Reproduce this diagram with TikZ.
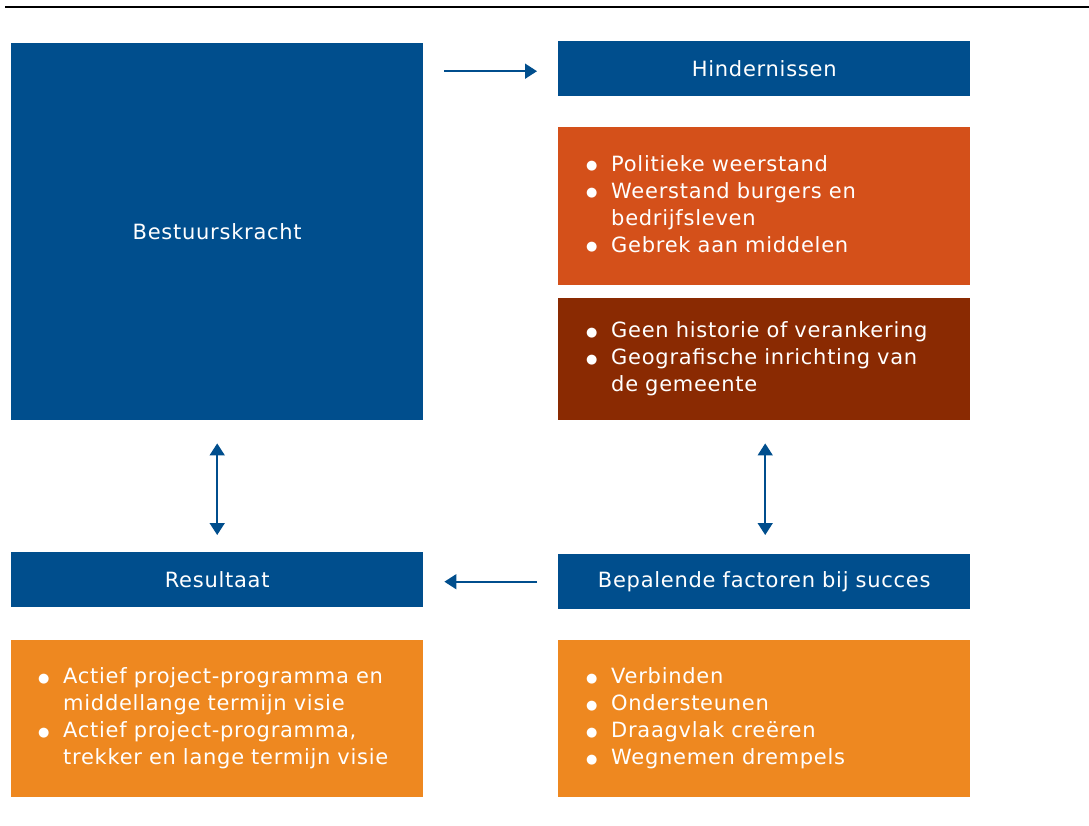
\documentclass[tikz,border=0pt]{standalone}
\usepackage{fontspec}
\setmainfont{DejaVu Sans}[LetterSpace=3.5]
\newfontfamily\dotfont{DejaVu Sans}
\usetikzlibrary{arrows.meta}
\definecolor{navy}{HTML}{004E8D}
\definecolor{rust}{HTML}{D4501A}
\definecolor{brick}{HTML}{8A2A02}
\definecolor{amber}{HTML}{EE8820}
% round white list marker
\newcommand{\bl}{\makebox[25pt][l]{\raisebox{1.5pt}{\dotfont\fontsize{13pt}{13pt}\selectfont ●}}}
\newenvironment{blist}{\begin{tabular}{@{}l@{}l@{}}}{\end{tabular}}
\begin{document}
\begin{tikzpicture}[x=1pt,y=-1pt,
  font=\fontsize{21pt}{27pt}\selectfont,
  panel/.style={anchor=north west, draw=none, text=white, inner ysep=0pt,
    minimum width=412pt, text width=356pt, inner xsep=28pt},
  headbox/.style={panel, fill=navy, align=center, minimum height=55pt},
  listbox/.style={panel, align=left},
  link/.style={draw=navy, line width=1.6pt, -{Triangle[width=15pt,length=12pt]}},
  dlink/.style={link, {Triangle[width=15pt,length=12pt]}-{Triangle[width=15pt,length=12pt]}}
]
\useasboundingbox (0,0) rectangle (1089,825);
% rule across the top
\coordinate (rl) at (5,7);
\coordinate (rr) at (1089,7);
\draw[line width=1.3pt] (rl) -- (rr);

% left column
\node[panel, fill=navy, align=center, minimum height=377pt] (bk) at (11,43) {Bestuurskracht};
\node[headbox] (res) at (11,552) {Resultaat};
\node[listbox, fill=amber, minimum height=157pt, inner xsep=27pt, text width=358pt] (resl) at (11,640) {%
\begin{blist}
\bl & Actief project-programma en\\
    & middellange termijn visie\\
\bl & Actief project-programma,\\
    & trekker en lange termijn visie
\end{blist}};

% right column
\node[headbox] (hin) at (558,41) {Hindernissen};
\node[listbox, fill=rust, minimum height=158pt] (hin1) at (558,127) {%
\begin{blist}
\bl & Politieke weerstand\\
\bl & Weerstand burgers en\\
    & bedrijfsleven\\
\bl & Gebrek aan middelen
\end{blist}};
\node[listbox, fill=brick, minimum height=122pt] (hin2) at (558,298) {%
\begin{blist}
\bl & Geen historie of verankering\\
\bl & Geografische inrichting van\\
    & de gemeente
\end{blist}};
\node[headbox] (bep) at (558,554) {Bepalende factoren bij succes};
\node[listbox, fill=amber, minimum height=157pt] (bepl) at (558,640) {%
\begin{blist}
\bl & Verbinden\\
\bl & Ondersteunen\\
\bl & Draagvlak creëren\\
\bl & Wegnemen drempels
\end{blist}};

% connectors
\draw[link] ([xshift=21pt,yshift=-2.5pt]bk.east |- hin.west) -- ([xshift=-21pt,yshift=-2.5pt]hin.west);
\draw[link] ([xshift=-21pt]bep.west) -- ([xshift=21pt]res.east |- bep.west);
\draw[dlink] ([yshift=-23pt]bk.south) -- ([yshift=17pt]res.north);
\draw[dlink] ([xshift=1pt,yshift=-23pt]hin2.south) -- ([xshift=1pt,yshift=19pt]bep.north);
\end{tikzpicture}
\end{document}
